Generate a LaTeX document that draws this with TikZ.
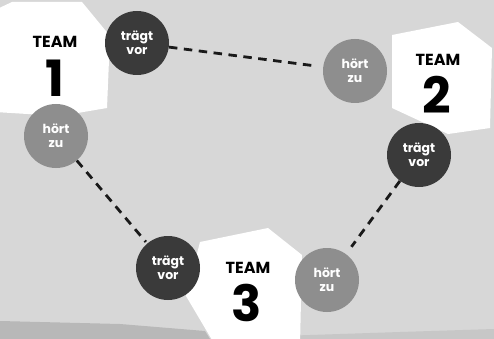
\documentclass[tikz,border=0pt]{standalone}
\usepackage{fontspec}
\setmainfont{Poppins}
\definecolor{bg}{HTML}{D7D7D7}
\definecolor{darkc}{HTML}{3A3A3A}
\definecolor{lightc}{HTML}{8E8E8E}
\begin{document}
\begin{tikzpicture}[x=1pt,y=-1pt,
  role/.style={circle,minimum size=64pt,inner sep=0pt,text=white,align=center,
    font=\fontsize{12.5}{14}\selectfont\bfseries},
  talk/.style={role,fill=darkc},
  listen/.style={role,fill=lightc},
  teamlbl/.style={inner sep=0pt,font=\fontsize{16}{18}\selectfont\bfseries},
  teamnum/.style={inner sep=0pt,font=\fontsize{50}{50}\selectfont\bfseries},
  link/.style={draw=black!90,line width=2.8pt,dash pattern=on 8.5pt off 6.5pt}]
\fill[bg] (0,0) rectangle (494,339);
\useasboundingbox (0,0) rectangle (494,339);
% darker strips at bottom
\fill[black!28] (0,321) -- (120,324) -- (205,331) -- (210,339) -- (0,339) -- cycle;
\fill[black!22] (280,336) -- (400,332) -- (494,329) -- (494,339) -- (280,339) -- cycle;
% white hexagons
\fill[white] (-5,10) -- (12,2) -- (82,2) -- (110,36) -- (107,108) -- (60,116) -- (-5,112) -- cycle;
\fill[white] (392,35) -- (458,22) -- (492,48) -- (490,128) -- (448,134) -- (392,108) -- cycle;
\fill[white] (200,242) -- (268,228) -- (302,255) -- (300,345) -- (215,345) -- (186,296) -- cycle;
% team labels
\node[teamlbl] (t1) at (55,42) {TEAM};
\node[teamnum] (n1) at (55,78) {1};
\node[teamlbl] (t2) at (438,60) {TEAM};
\node[teamnum] (n2) at (437,95) {2};
\node[teamlbl] (t3) at (248,268) {TEAM};
\node[teamnum] (n3) at (247,303) {3};
% circles
\node[talk] (a1) at (137,43) {trägt\\vor};
\node[listen] (b1) at (56,136) {hört\\zu};
\node[listen] (b2) at (355,71) {hört\\zu};
\node[talk] (a2) at (419,155) {trägt\\vor};
\node[talk] (a3) at (168,268) {trägt\\vor};
\node[listen] (b3) at (327,280) {hört\\zu};
% connectors
\draw[link,shorten >=10pt] (a1) -- (b2);
\draw[link,shorten >=2pt] (b1) -- (a3);
\draw[link,shorten >=9pt] (a2) -- (b3);
\end{tikzpicture}
\end{document}
